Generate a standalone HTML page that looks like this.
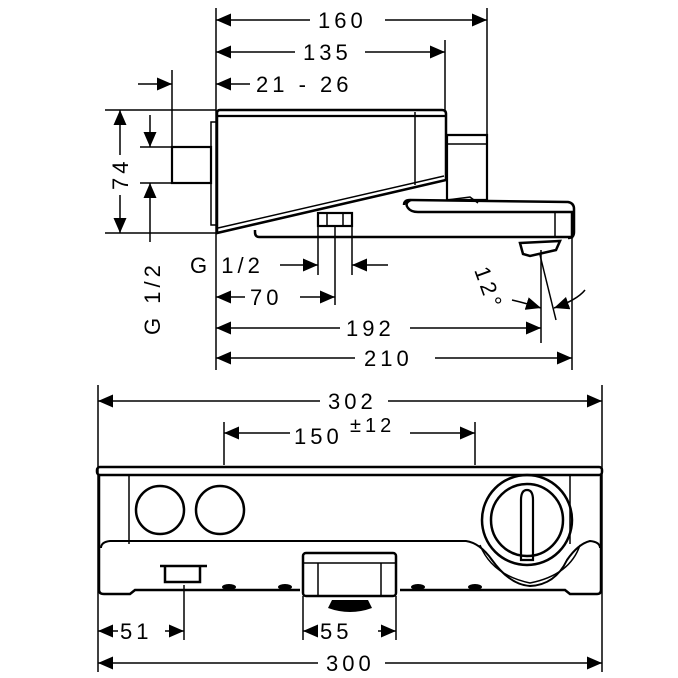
<!DOCTYPE html>
<html><head><style>body{margin:0;background:#fff}svg{display:block}text{font-family:"Liberation Sans",sans-serif;font-size:22px;letter-spacing:4px;fill:#000}</style></head><body>
<svg width="678" height="678" viewBox="0 0 678 678" xmlns="http://www.w3.org/2000/svg">
<defs><marker id="a" viewBox="0 0 15 13" refX="15" refY="6.5" markerWidth="15" markerHeight="13" markerUnits="userSpaceOnUse" orient="auto-start-reverse"><path d="M0,0L15,6.5L0,13z"/></marker></defs>
<g stroke="#000" stroke-width="1.5" fill="none">
<line x1="216" y1="8" x2="216" y2="370"/><line x1="487" y1="8" x2="487" y2="135"/><line x1="445" y1="40" x2="445" y2="110"/><line x1="172" y1="70" x2="172" y2="147"/>
<line x1="216" y1="20" x2="310" y2="20" marker-start="url(#a)"/><line x1="385" y1="20" x2="487" y2="20" marker-end="url(#a)"/>
<line x1="216" y1="52" x2="295" y2="52" marker-start="url(#a)"/><line x1="365" y1="52" x2="445" y2="52" marker-end="url(#a)"/>
<line x1="216" y1="84" x2="250" y2="84" marker-start="url(#a)"/><line x1="138" y1="84" x2="172" y2="84" marker-end="url(#a)"/>
<line x1="105" y1="110" x2="216" y2="110"/><line x1="105" y1="233" x2="216" y2="233"/>
<line x1="120" y1="110" x2="120" y2="155" marker-start="url(#a)"/><line x1="120" y1="195" x2="120" y2="233" marker-end="url(#a)"/>
<line x1="140" y1="147" x2="172" y2="147"/><line x1="140" y1="183" x2="172" y2="183"/>
<line x1="150" y1="115" x2="150" y2="147" marker-end="url(#a)"/><line x1="150" y1="183" x2="150" y2="242" marker-start="url(#a)"/>
<path d="M217,113 Q217,110 220,110 L442,110 Q446,110 446,114 L446,180 L217,233 Z" stroke-width="2.5"/>
<line x1="217" y1="116" x2="446" y2="116" stroke-width="2.2"/>
<line x1="415" y1="112" x2="415" y2="185"/>
<rect x="211" y="122" width="6" height="103"/>
<rect x="172" y="147" width="39" height="36" stroke-width="2.2"/>
<path d="M218,228 L444,176" />
<path d="M447,135 L487,135 L487,200 L447,200 Z" stroke-width="2.2"/><line x1="447" y1="144" x2="487" y2="144"/>
<path d="M411,200 Q404,203 408,208 Q411,212 418,212 L572,212 L572,237 L259,237 Q255,237 255,232 L255,230" stroke-width="2.5"/>
<path d="M404,205 Q404,200 410,200 L568,202 Q574,203 574,209 L574,232 Q574,238 568,238" stroke-width="2.5"/>
<line x1="555" y1="212" x2="555" y2="237"/>
<path d="M447,200 L470,197 L478,203" />
<rect x="318" y="213" width="34" height="13" stroke-width="2.2"/><line x1="327" y1="213" x2="327" y2="226"/><line x1="343" y1="213" x2="343" y2="226"/>
<path d="M520,243 L560,241 L556,250 L530,256 L523,254 Z" stroke-width="2.5"/>
<line x1="318" y1="226" x2="318" y2="275"/><line x1="352" y1="226" x2="352" y2="275"/><line x1="335" y1="226" x2="335" y2="305"/>
<line x1="280" y1="265" x2="318" y2="265" marker-end="url(#a)"/><line x1="352" y1="265" x2="388" y2="265" marker-start="url(#a)"/>
<line x1="216" y1="297" x2="245" y2="297" marker-start="url(#a)"/><line x1="300" y1="297" x2="335" y2="297" marker-end="url(#a)"/>
<line x1="216" y1="328" x2="340" y2="328" marker-start="url(#a)"/><line x1="410" y1="328" x2="541" y2="328" marker-end="url(#a)"/>
<line x1="216" y1="358" x2="355" y2="358" marker-start="url(#a)"/><line x1="435" y1="358" x2="572" y2="358" marker-end="url(#a)"/>
<line x1="541" y1="250" x2="541" y2="343"/><line x1="572" y1="238" x2="572" y2="370"/><line x1="540" y1="255" x2="556" y2="320"/>
<path d="M512,300 Q525,303 541,308" marker-end="url(#a)"/><path d="M585,290 Q577,300 554,308" marker-end="url(#a)"/>
<line x1="98" y1="385" x2="98" y2="672"/><line x1="602" y1="385" x2="602" y2="672"/>
<line x1="98" y1="401" x2="320" y2="401" marker-start="url(#a)"/><line x1="388" y1="401" x2="602" y2="401" marker-end="url(#a)"/>
<line x1="224" y1="422" x2="224" y2="465"/><line x1="475" y1="422" x2="475" y2="465"/>
<line x1="224" y1="433" x2="290" y2="433" marker-start="url(#a)"/><line x1="410" y1="433" x2="475" y2="433" marker-end="url(#a)"/>
<rect x="97" y="467" width="505" height="8" rx="3" stroke-width="2.5"/>
<path d="M99,475 L99,590 Q99,594 104,594 L130,594 L135,590 L300,590 M400,590 L565,590 L570,594 L597,594 Q601,594 601,590 L601,475" stroke-width="2.5"/>
<line x1="129" y1="475" x2="129" y2="544"/><line x1="570" y1="475" x2="570" y2="544"/>
<path d="M101,548 Q101,542 110,541 L466,541 Q480,543 492,560 Q510,585 530,586 Q555,585 567,560 Q578,544 590,541 Q600,542 600,548" stroke-width="2"/>
<path d="M480,545 Q492,575 530,583 Q570,575 580,545"/>
<circle cx="160" cy="510" r="24" stroke-width="2.5"/><circle cx="220" cy="510" r="24" stroke-width="2.5"/>
<circle cx="527" cy="520" r="45" stroke-width="2.5"/><circle cx="527" cy="520" r="36" stroke-width="2.5"/>
<path d="M521,500 Q521,490 527,490 Q533,490 533,500 L533,560 L521,560 Z" stroke-width="2.2"/>
<path d="M160,566 L207,566 M165,566 L165,582 L200,582 L200,566" stroke-width="2.5"/>
<rect x="303" y="553" width="93" height="43" rx="3" stroke-width="2.5"/><line x1="303" y1="563" x2="396" y2="563"/><line x1="318" y1="563" x2="318" y2="596"/><line x1="381" y1="563" x2="381" y2="596"/>
<line x1="184" y1="585" x2="184" y2="640"/><line x1="303" y1="596" x2="303" y2="640"/><line x1="396" y1="596" x2="396" y2="640"/>
<line x1="98" y1="631" x2="118" y2="631" marker-start="url(#a)"/><line x1="165" y1="631" x2="184" y2="631" marker-end="url(#a)"/>
<line x1="303" y1="631" x2="318" y2="631" marker-start="url(#a)"/><line x1="378" y1="631" x2="396" y2="631" marker-end="url(#a)"/>
<line x1="98" y1="663" x2="318" y2="663" marker-start="url(#a)"/><line x1="385" y1="663" x2="602" y2="663" marker-end="url(#a)"/>
</g>
<g fill="#000">
<ellipse cx="229" cy="587" rx="7" ry="3"/><ellipse cx="285" cy="587" rx="7" ry="3"/><ellipse cx="418" cy="587" rx="7" ry="3"/><ellipse cx="475" cy="587" rx="7" ry="3"/>
<path d="M332,600 L368,600 L372,608 Q350,616 328,608 Z"/>
</g>
<text x="318" y="28">160</text><text x="303" y="60">135</text><text x="256" y="92">21 - 26</text>
<text transform="translate(128,190) rotate(-90)">74</text>
<text transform="translate(160,335) rotate(-90)">G 1/2</text>
<text x="190" y="273">G 1/2</text>
<text x="250" y="305">70</text><text x="346" y="336">192</text><text x="364" y="366">210</text>
<text transform="translate(474,270) rotate(70)">12°</text>
<text x="328" y="409">302</text>
<text x="294" y="444">150</text><text x="350" y="432" style="font-size:20px">±12</text>
<text x="120" y="639">51</text><text x="320" y="639">55</text><text x="326" y="671">300</text>
</svg>
</body></html>
